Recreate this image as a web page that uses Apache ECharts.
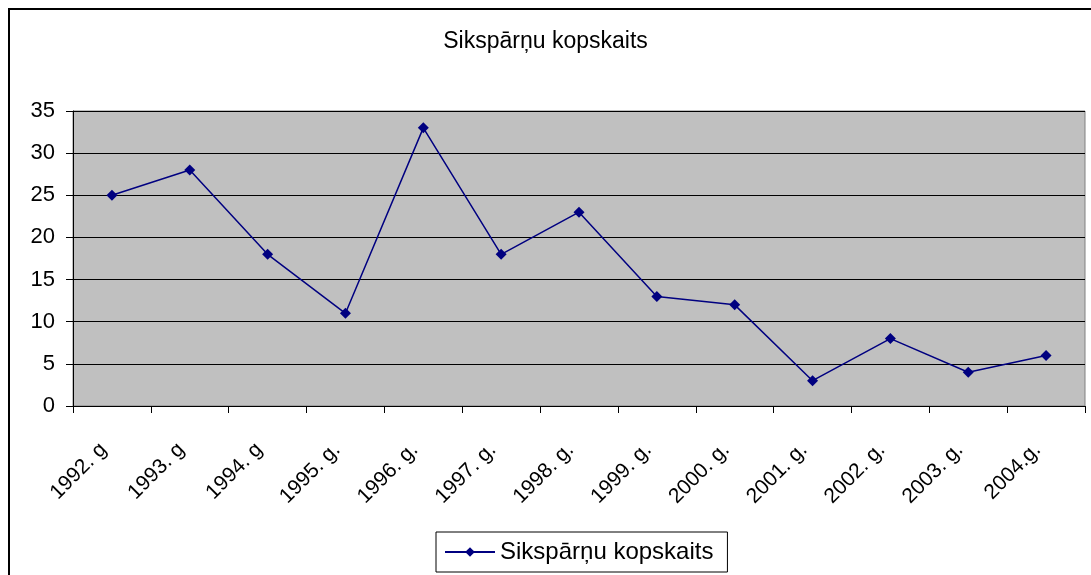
<!DOCTYPE html>
<html>
<head>
<meta charset="utf-8">
<script src="https://cdn.jsdelivr.net/npm/echarts@6/dist/echarts.min.js"></script>
<style>
    html, body { margin: 0; padding: 0; background: #fff; }
    #chart { width: 1091px; height: 575px; }
</style>
</head>
<body>
<div id="chart"></div>
<script>
    // dati no attēla
    const years = ['1992. g', '1993. g', '1994. g', '1995. g.', '1996. g.', '1997. g.', '1998. g.',
        '1999. g.', '2000. g.', '2001. g.', '2002. g.', '2003. g.', '2004.g.'];
    const totals = [25, 28, 18, 11, 33, 18, 23, 13, 12, 3, 8, 4, 6];
    const seriesName = 'Sikspārņu kopskaits';
    const yMin = 0, yMax = 35, yStep = 5;

    const myChart = echarts.init(document.getElementById('chart'));
    const font = 'Liberation Sans, Arial, sans-serif';
    myChart.setOption({
        animation: false,
        textStyle: { fontFamily: font },
        graphic: [{
            type: 'rect',
            shape: { x: 9, y: 9, width: 1100, height: 600 },
            style: { fill: 'none', stroke: '#000', lineWidth: 2 },
            z: -1
        }],
        title: {
            text: 'Sikspārņu kopskaits',
            left: 'center',
            top: 25,
            textStyle: { fontFamily: font, fontSize: 23, fontWeight: 'normal', color: '#000' }
        },
        legend: {
            data: [seriesName],
            bottom: 3,
            left: 436,
            borderColor: '#000',
            borderWidth: 1,
            padding: [8, 14, 8, 8],
            itemWidth: 50,
            itemHeight: 12,
            textStyle: { fontFamily: font, fontSize: 24, color: '#000' }
        },
        grid: { left: 73, right: 6, top: 111, bottom: 169, containLabel: false,
            show: true, backgroundColor: '#c0c0c0', borderColor: '#808080', borderWidth: 1 },
        xAxis: {
            type: 'category',
            data: years,
            boundaryGap: true,
            axisLine: { lineStyle: { color: '#000', width: 1 } },
            axisTick: { show: true, alignWithLabel: false, length: 7, lineStyle: { color: '#000' } },
            axisLabel: { rotate: 45, interval: 0, margin: 32, padding: [0, 12, 0, 0],
                color: '#000', fontSize: 21, fontFamily: font }
        },
        yAxis: {
            type: 'value',
            min: yMin, max: yMax, interval: yStep,
            axisLine: { show: true, lineStyle: { color: '#000' } },
            axisTick: { show: true, length: 7, lineStyle: { color: '#000' } },
            axisLabel: { color: '#000', fontSize: 22, margin: 18, fontFamily: font },
            splitLine: { show: true, lineStyle: { color: '#000', width: 1 } }
        },
        series: [{
            name: seriesName,
            type: 'line',
            data: totals,
            symbol: 'diamond',
            symbolSize: 11,
            color: '#000080',
            lineStyle: { color: '#000080', width: 1.5 },
            itemStyle: { color: '#000080' }
        }]
    });
</script>
</body>
</html>
